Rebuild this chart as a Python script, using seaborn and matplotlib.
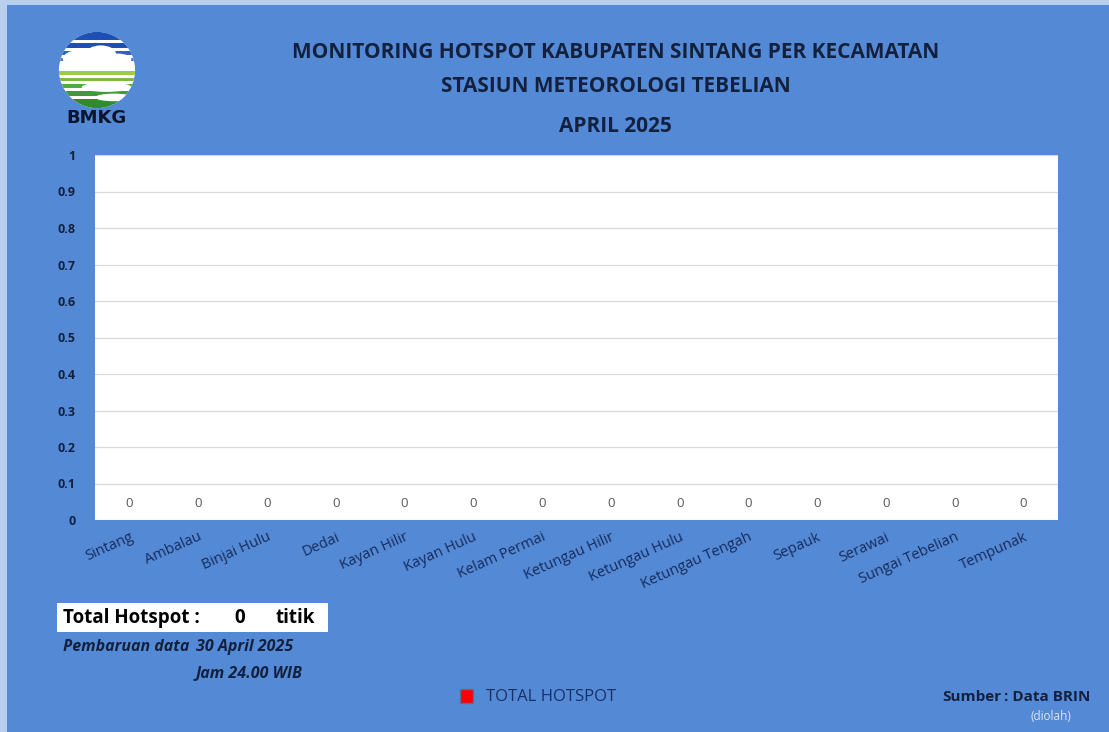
import numpy as np
import pandas as pd
import seaborn as sns
import matplotlib.pyplot as plt
from matplotlib.patches import Circle, Rectangle, Patch, Ellipse

# data
kecamatan = ['Sintang', 'Ambalau', 'Binjai Hulu', 'Dedai', 'Kayan Hilir', 'Kayan Hulu',
             'Kelam Permai', 'Ketungau Hilir', 'Ketungau Hulu', 'Ketungau Tengah',
             'Sepauk', 'Serawai', 'Sungai Tebelian', 'Tempunak']
hotspot = [0, 0, 0, 0, 0, 0, 0, 0, 0, 0, 0, 0, 0, 0]
y_ticks = [0, 0.1, 0.2, 0.3, 0.4, 0.5, 0.6, 0.7, 0.8, 0.9, 1]

BG = '#548AD5'
NAVY = '#13213F'
FONT = ['Open Sans', 'DejaVu Sans']

sns.set_theme(style='white')
plt.rcParams['font.family'] = FONT

df = pd.DataFrame({'Kecamatan': kecamatan, 'Hotspot': hotspot})

fig = plt.figure(figsize=(11.09, 7.32), dpi=100, facecolor=BG)
# light strips at the top and left edge
fig.patches.append(Rectangle((0, 0), 7 / 1109, 1, transform=fig.transFigure,
                             facecolor='#B9CFEE', edgecolor='none', zorder=0))
fig.patches.append(Rectangle((0, 1 - 5 / 732), 1, 5 / 732, transform=fig.transFigure,
                             facecolor='#B9CFEE', edgecolor='none', zorder=0))

ax = fig.add_axes([95 / 1109, 1 - 520 / 732, 963 / 1109, 365 / 732])
sns.barplot(data=df, x='Kecamatan', y='Hotspot', color='#FF0000', ax=ax,
            linewidth=0, width=0.5)
ax.set_facecolor('white')
ax.set_ylim(0, 1)
ax.set_yticks(y_ticks)
ax.set_yticklabels([f'{v:g}' for v in y_ticks], fontsize=9, fontweight='bold', color=NAVY)
ax.grid(axis='y', color='#D9D9D9', linewidth=0.9)
ax.set_axisbelow(True)
for s in ax.spines.values():
    s.set_visible(False)
ax.tick_params(axis='y', length=0, pad=14)
ax.tick_params(axis='x', length=0, pad=7)
ax.set_xlabel('')
ax.set_ylabel('')
ax.set_xticks(range(len(kecamatan)))
ax.set_xticklabels(kecamatan, rotation=24, ha='right', rotation_mode='anchor',
                   fontsize=10.5, color='#172B5C')
ax.bar_label(ax.containers[0], labels=[str(v) for v in hotspot], padding=7,
             fontsize=9.5, color='#595959')

# titles
fig.text(0.555, 1 - 52 / 732, 'MONITORING HOTSPOT KABUPATEN SINTANG PER KECAMATAN',
         ha='center', va='center', fontsize=15, fontweight='bold', color=NAVY)
fig.text(0.555, 1 - 86 / 732, 'STASIUN METEOROLOGI TEBELIAN',
         ha='center', va='center', fontsize=15, fontweight='bold', color=NAVY)
fig.text(0.555, 1 - 126 / 732, 'APRIL 2025',
         ha='center', va='center', fontsize=15, fontweight='bold', color=NAVY)

# logo
lax = fig.add_axes([57 / 1109, 1 - 110 / 732, 80 / 1109, 80 / 732])
lax.set_xlim(-1.05, 1.05)
lax.set_ylim(-1.05, 1.05)
lax.set_aspect('equal')
lax.axis('off')
clip = Circle((0, 0), 1.0, transform=lax.transData)
lax.add_patch(Circle((0, 0), 1.0, facecolor='white', edgecolor='none'))
stripes = [(0.78, 0.25, '#1F4FB5'), (0.58, 0.12, '#1F4FB5'), (0.40, 0.10, '#2F62C4'),
           (0.24, 0.08, '#4A79D0'),
           (-0.12, 0.10, '#9BCB4A'), (-0.30, 0.10, '#7DBB3F'), (-0.48, 0.11, '#5AA83A'),
           (-0.68, 0.13, '#3F9B35'), (-1.0, 0.24, '#2E8B2E')]
for yy, hh, col in stripes:
    r = lax.add_patch(Rectangle((-1.1, yy), 2.2, hh, facecolor=col, edgecolor='none'))
    r.set_clip_path(clip)
for cx, cy, w, h in [(-0.3, 0.3, 1.2, 0.5), (0.1, 0.42, 0.8, 0.45),
                     (0.55, 0.28, 0.7, 0.3)]:
    c = lax.add_patch(Ellipse((cx, cy), w, h, facecolor='white', edgecolor='none'))
    c.set_clip_path(clip)
for cx, cy, w, h in [(0.25, -0.45, 1.3, 0.25), (0.45, -0.72, 1.0, 0.2)]:
    c = lax.add_patch(Ellipse((cx, cy), w, h, facecolor='white', edgecolor='none'))
    c.set_clip_path(clip)
fig.text(97 / 1109, 1 - 118 / 732, 'BMKG', ha='center', va='center',
         fontsize=13, fontweight='bold', color='#0B1530', family='DejaVu Sans')

# total hotspot box
fig.patches.append(Rectangle((57 / 1109, 1 - 632 / 732), 271 / 1109, 29 / 732,
                             transform=fig.transFigure, facecolor='white',
                             edgecolor='none'))
fig.text(63 / 1109, 1 - 618 / 732, 'Total Hotspot :', ha='left', va='center',
         fontsize=13.5, fontweight='bold', color='black')
fig.text(240 / 1109, 1 - 618 / 732, str(sum(hotspot)), ha='center', va='center',
         fontsize=13.5, fontweight='bold', color='black')
fig.text(276 / 1109, 1 - 618 / 732, 'titik', ha='left', va='center',
         fontsize=13.5, fontweight='bold', color='black')
fig.text(63 / 1109, 1 - 647 / 732, 'Pembaruan data', ha='left', va='center',
         fontsize=11.5, fontweight='bold', style='italic', color=NAVY)
fig.text(196 / 1109, 1 - 647 / 732, '30 April 2025', ha='left', va='center',
         fontsize=11.5, fontweight='bold', style='italic', color=NAVY)
fig.text(196 / 1109, 1 - 673 / 732, 'Jam 24.00 WIB', ha='left', va='center',
         fontsize=11.5, fontweight='bold', style='italic', color=NAVY)

# legend
fig.legend(handles=[Patch(facecolor='#FF0000', edgecolor='#5A6E9C', label='TOTAL HOTSPOT')],
           loc='center left', bbox_to_anchor=(445 / 1109, 1 - 697 / 732), frameon=False,
           fontsize=12, labelcolor='#1A2F66', handlelength=0.75, handleheight=0.9,
           handletextpad=0.8)

# source
fig.text(942 / 1109, 1 - 697 / 732, 'Sumber', ha='left', va='center',
         fontsize=11, fontweight='bold', color=NAVY)
fig.text(1004 / 1109, 1 - 697 / 732, ': Data BRIN', ha='left', va='center',
         fontsize=11, fontweight='bold', color=NAVY)
fig.text(1051 / 1109, 1 - 717 / 732, '(diolah)', ha='center', va='center',
         fontsize=8.5, color='#DCE4F2')

fig.savefig('out.png', dpi=100, facecolor=BG)
